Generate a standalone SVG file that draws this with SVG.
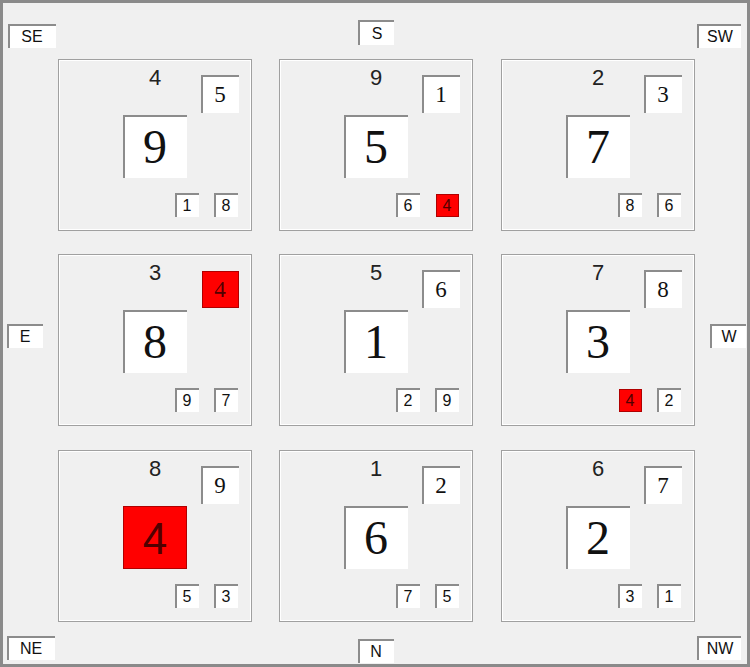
<svg xmlns="http://www.w3.org/2000/svg" width="750" height="667" viewBox="0 0 750 667">
<style>
.bg{fill:#f0f0f0}
.frame{fill:none;stroke:#a0a0a0;stroke-width:1}
.hl{fill:none;stroke:#ffffff;stroke-width:1}
.box{fill:#ffffff}
.red{fill:#ff0000;stroke:#b00000;stroke-width:1}
.sh{fill:none;stroke:#8c8c8c;stroke-width:2}
.top{font-family:"Liberation Sans",Arial,sans-serif;font-size:22px;fill:#222;text-anchor:middle}
.ur{font-family:"Liberation Serif","Times New Roman",serif;font-size:23px;fill:#111;text-anchor:middle}
.big{font-family:"Liberation Serif","Times New Roman",serif;font-size:48px;fill:#111;text-anchor:middle}
.sm{font-family:"Liberation Sans",Arial,sans-serif;font-size:16px;fill:#111;text-anchor:middle}
.rt{fill:#500000}
.dir{font-family:"Liberation Sans",Arial,sans-serif;font-size:16px;fill:#111;text-anchor:middle}
</style>
<rect class="bg" x="0" y="0" width="750" height="667"/>
<rect x="1.5" y="1.5" width="747" height="664" fill="none" stroke="#8a8a8a" stroke-width="3"/>

<g id="dirs">
<g id="dir-SE"><rect class="box" x="8" y="24" width="48" height="24"/><path class="sh" d="M9 48V25H56"/><text class="dir" x="32" y="42">SE</text></g>
<g id="dir-S"><rect class="box" x="358" y="20" width="36" height="25"/><path class="sh" d="M359 45V21H394"/><text class="dir" x="377" y="39">S</text></g>
<g id="dir-SW"><rect class="box" x="697" y="24" width="44" height="24"/><path class="sh" d="M698 48V25H741"/><text class="dir" x="720" y="42">SW</text></g>
<g id="dir-E"><rect class="box" x="7" y="324" width="36" height="24"/><path class="sh" d="M8 348V325H43"/><text class="dir" x="25" y="342">E</text></g>
<g id="dir-W"><rect class="box" x="710" y="324" width="36" height="24"/><path class="sh" d="M711 348V325H746"/><text class="dir" x="729" y="342">W</text></g>
<g id="dir-NE"><rect class="box" x="7" y="636" width="48" height="24"/><path class="sh" d="M8 660V637H55"/><text class="dir" x="31" y="654">NE</text></g>
<g id="dir-N"><rect class="box" x="358" y="639" width="36" height="24"/><path class="sh" d="M359 663V640H394"/><text class="dir" x="376" y="657">N</text></g>
<g id="dir-NW"><rect class="box" x="697" y="636" width="44" height="24"/><path class="sh" d="M698 660V637H741"/><text class="dir" x="720" y="654">NW</text></g>
</g>

<defs>
<g id="cellbase">
<rect x="0.5" y="0.5" width="193" height="171" class="frame"/>
<rect x="1.5" y="1.5" width="191" height="169" class="hl"/>
</g>
</defs>

<g id="connectors"></g>

<g id="cell-SE" transform="translate(58,59)">
<use href="#cellbase"/>
<text class="top" x="97" y="26">4</text>
<rect class="box" x="143" y="16" width="38" height="38"/><path class="sh" d="M144 54V17H181"/><text class="ur" x="162" y="43">5</text>
<rect class="box" x="65" y="56" width="64" height="63"/><path class="sh" d="M66 119V57H129"/><text class="big" x="97" y="104">9</text>
<rect class="box" x="117" y="134" width="24" height="24"/><path class="sh" d="M118 158V135H141"/><text class="sm" x="129" y="152">1</text>
<rect class="box" x="156" y="134" width="24" height="24"/><path class="sh" d="M157 158V135H180"/><text class="sm" x="168" y="152">8</text>
</g>

<g id="cell-S" transform="translate(279,59)">
<use href="#cellbase"/>
<text class="top" x="97" y="26">9</text>
<rect class="box" x="143" y="16" width="38" height="38"/><path class="sh" d="M144 54V17H181"/><text class="ur" x="162" y="43">1</text>
<rect class="box" x="65" y="56" width="64" height="63"/><path class="sh" d="M66 119V57H129"/><text class="big" x="97" y="104">5</text>
<rect class="box" x="117" y="134" width="24" height="24"/><path class="sh" d="M118 158V135H141"/><text class="sm" x="129" y="152">6</text>
<rect class="red" x="157.5" y="135.5" width="22" height="22"/><text class="sm rt" x="168" y="152">4</text>
</g>

<g id="cell-SW" transform="translate(501,59)">
<use href="#cellbase"/>
<text class="top" x="97" y="26">2</text>
<rect class="box" x="143" y="16" width="38" height="38"/><path class="sh" d="M144 54V17H181"/><text class="ur" x="162" y="43">3</text>
<rect class="box" x="65" y="56" width="64" height="63"/><path class="sh" d="M66 119V57H129"/><text class="big" x="97" y="104">7</text>
<rect class="box" x="117" y="134" width="24" height="24"/><path class="sh" d="M118 158V135H141"/><text class="sm" x="129" y="152">8</text>
<rect class="box" x="156" y="134" width="24" height="24"/><path class="sh" d="M157 158V135H180"/><text class="sm" x="168" y="152">6</text>
</g>

<g id="cell-E" transform="translate(58,254)">
<use href="#cellbase"/>
<text class="top" x="97" y="26">3</text>
<rect class="red" x="144.5" y="17.5" width="36" height="36"/><text class="ur rt" x="162" y="43">4</text>
<rect class="box" x="65" y="56" width="64" height="63"/><path class="sh" d="M66 119V57H129"/><text class="big" x="97" y="104">8</text>
<rect class="box" x="117" y="134" width="24" height="24"/><path class="sh" d="M118 158V135H141"/><text class="sm" x="129" y="152">9</text>
<rect class="box" x="156" y="134" width="24" height="24"/><path class="sh" d="M157 158V135H180"/><text class="sm" x="168" y="152">7</text>
</g>

<g id="cell-C" transform="translate(279,254)">
<use href="#cellbase"/>
<text class="top" x="97" y="26">5</text>
<rect class="box" x="143" y="16" width="38" height="38"/><path class="sh" d="M144 54V17H181"/><text class="ur" x="162" y="43">6</text>
<rect class="box" x="65" y="56" width="64" height="63"/><path class="sh" d="M66 119V57H129"/><text class="big" x="97" y="104">1</text>
<rect class="box" x="117" y="134" width="24" height="24"/><path class="sh" d="M118 158V135H141"/><text class="sm" x="129" y="152">2</text>
<rect class="box" x="156" y="134" width="24" height="24"/><path class="sh" d="M157 158V135H180"/><text class="sm" x="168" y="152">9</text>
</g>

<g id="cell-W" transform="translate(501,254)">
<use href="#cellbase"/>
<text class="top" x="97" y="26">7</text>
<rect class="box" x="143" y="16" width="38" height="38"/><path class="sh" d="M144 54V17H181"/><text class="ur" x="162" y="43">8</text>
<rect class="box" x="65" y="56" width="64" height="63"/><path class="sh" d="M66 119V57H129"/><text class="big" x="97" y="104">3</text>
<rect class="red" x="118.5" y="135.5" width="22" height="22"/><text class="sm rt" x="129" y="152">4</text>
<rect class="box" x="156" y="134" width="24" height="24"/><path class="sh" d="M157 158V135H180"/><text class="sm" x="168" y="152">2</text>
</g>

<g id="cell-NE" transform="translate(58,450)">
<use href="#cellbase"/>
<text class="top" x="97" y="26">8</text>
<rect class="box" x="143" y="16" width="38" height="38"/><path class="sh" d="M144 54V17H181"/><text class="ur" x="162" y="43">9</text>
<rect class="red" x="65.5" y="56.5" width="63" height="62"/><text class="big rt" x="97" y="104" style="font-family:'Liberation Sans',Arial,sans-serif;font-size:44px">4</text>
<rect class="box" x="117" y="134" width="24" height="24"/><path class="sh" d="M118 158V135H141"/><text class="sm" x="129" y="152">5</text>
<rect class="box" x="156" y="134" width="24" height="24"/><path class="sh" d="M157 158V135H180"/><text class="sm" x="168" y="152">3</text>
</g>

<g id="cell-N" transform="translate(279,450)">
<use href="#cellbase"/>
<text class="top" x="97" y="26">1</text>
<rect class="box" x="143" y="16" width="38" height="38"/><path class="sh" d="M144 54V17H181"/><text class="ur" x="162" y="43">2</text>
<rect class="box" x="65" y="56" width="64" height="63"/><path class="sh" d="M66 119V57H129"/><text class="big" x="97" y="104">6</text>
<rect class="box" x="117" y="134" width="24" height="24"/><path class="sh" d="M118 158V135H141"/><text class="sm" x="129" y="152">7</text>
<rect class="box" x="156" y="134" width="24" height="24"/><path class="sh" d="M157 158V135H180"/><text class="sm" x="168" y="152">5</text>
</g>

<g id="cell-NW" transform="translate(501,450)">
<use href="#cellbase"/>
<text class="top" x="97" y="26">6</text>
<rect class="box" x="143" y="16" width="38" height="38"/><path class="sh" d="M144 54V17H181"/><text class="ur" x="162" y="43">7</text>
<rect class="box" x="65" y="56" width="64" height="63"/><path class="sh" d="M66 119V57H129"/><text class="big" x="97" y="104">2</text>
<rect class="box" x="117" y="134" width="24" height="24"/><path class="sh" d="M118 158V135H141"/><text class="sm" x="129" y="152">3</text>
<rect class="box" x="156" y="134" width="24" height="24"/><path class="sh" d="M157 158V135H180"/><text class="sm" x="168" y="152">1</text>
</g>
</svg>
